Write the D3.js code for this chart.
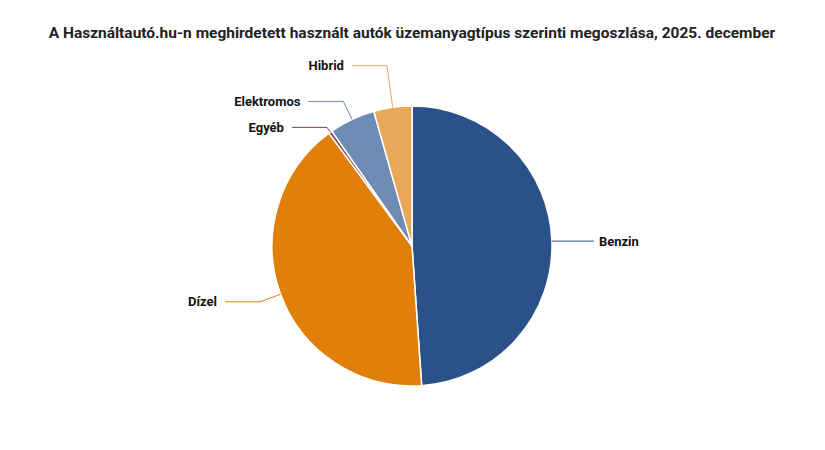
<!DOCTYPE html><html><head><meta charset="utf-8"><script src="https://cdn.jsdelivr.net/npm/d3@7"></script>
<style>body{margin:0;background:#fff;font-family:Roboto,sans-serif}</style></head><body><svg width="825" height="450"></svg>
<script>
const categories=["Benzin","Dízel","Egyéb","Elektromos","Hibrid"];
const values=[48.9,41.0,0.4,5.3,4.4];
const colors=["#2b5288","#e07f0a","#7a3b5a","#6e8bb3","#e8a857"];
const elbowExtra=[2,22,6,20,42];
const svg=d3.select("svg");
svg.append("text").attr("x",412).attr("y",38).attr("text-anchor","middle")
 .attr("font-size",15.5).attr("font-weight","bold").attr("fill","#222")
 .text("A Használtautó.hu-n meghirdetett használt autók üzemanyagtípus szerinti megoszlása, 2025. december");
const cx=412,cy=246,r=140;
const data=categories.map((c,i)=>({c,v:values[i],col:colors[i],ex:elbowExtra[i]}));
const pie=d3.pie().value(d=>d.v).sort(null);
const arcs=pie(data);
const arc=d3.arc().innerRadius(0).outerRadius(r);
const g=svg.append("g").attr("transform",`translate(${cx},${cy})`);
g.selectAll("path").data(arcs).join("path").attr("d",arc).attr("fill",d=>d.data.col)
 .attr("stroke","#fff").attr("stroke-width",1.5);
arcs.forEach(a=>{
  const m=(a.startAngle+a.endAngle)/2;
  const p1=[Math.sin(m)*r,-Math.cos(m)*r];
  const re=r+a.data.ex;
  const p2=[Math.sin(m)*re,-Math.cos(m)*re];
  const right=Math.sin(m)>0;
  const p3=[p2[0]+(right?40:-35),p2[1]];
  g.append("polyline").attr("points",[p1,p2,p3].map(p=>p.join(",")).join(" "))
   .attr("fill","none").attr("stroke",a.data.col).attr("stroke-width",1);
  g.append("text").attr("x",p3[0]+(right?5:-8)).attr("y",p3[1]).attr("dy","0.35em")
   .attr("text-anchor",right?"start":"end").attr("font-size",13).attr("font-weight","bold")
   .attr("fill","#111").text(a.data.c);
});
</script></body></html>
